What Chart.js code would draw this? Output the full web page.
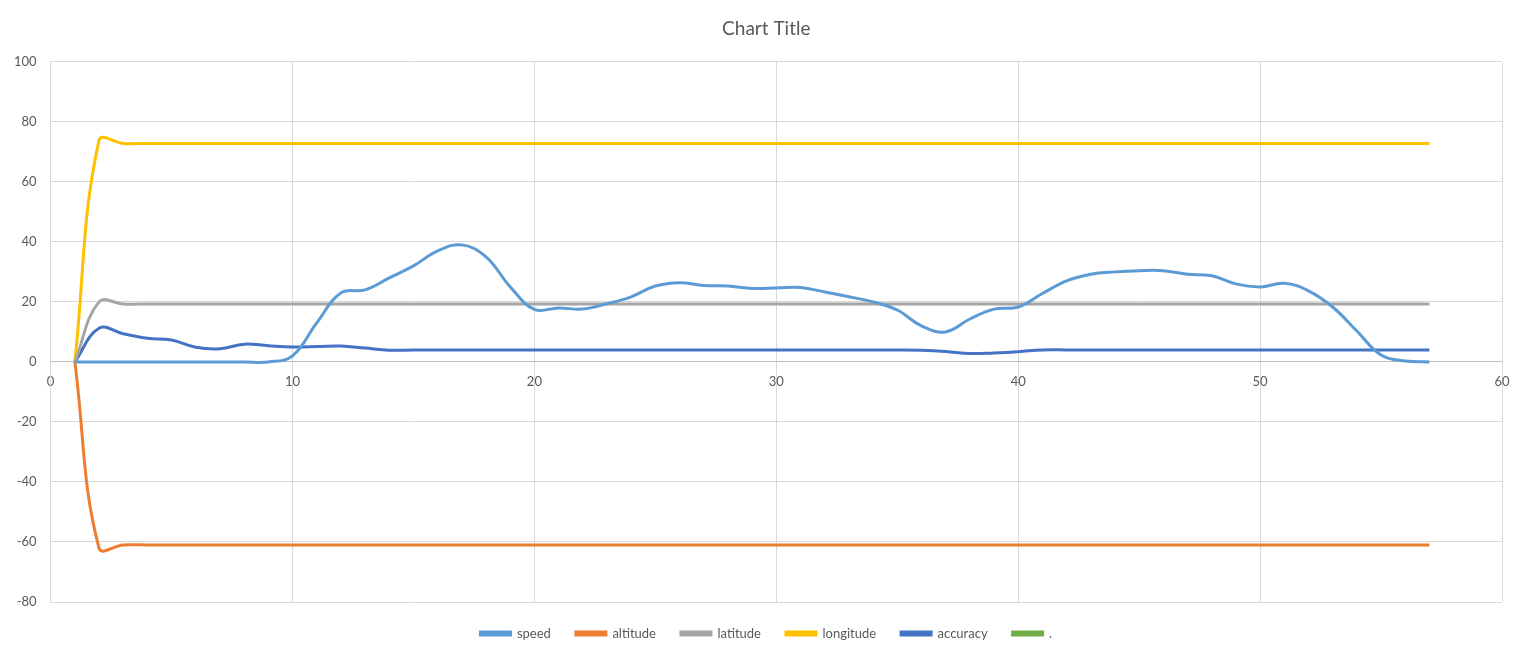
<!DOCTYPE html>
<html>
<head>
<meta charset="utf-8">
<script src="https://cdn.jsdelivr.net/npm/chart.js@4"></script>
<style>
  html, body { margin: 0; padding: 0; background: #fff; }
  #wrap { width: 1520px; height: 650px; position: relative; }
</style>
</head>
<body>
<div id="wrap"><canvas id="chart"></canvas></div>
<script>
const xValues = [1, 2, 3, 4, 5, 6, 7, 8, 9, 10, 11, 12, 13, 14, 15, 16, 17, 18, 19, 20,
  21, 22, 23, 24, 25, 26, 27, 28, 29, 30, 31, 32, 33, 34, 35, 36, 37, 38, 39, 40,
  41, 42, 43, 44, 45, 46, 47, 48, 49, 50, 51, 52, 53, 54, 55, 56, 57];

const speed = [0, 0, 0, 0, 0, 0, 0, 0, 0, 2, 13, 23, 24, 28, 32, 37, 39, 35, 25, 17.5,
  18, 17.6, 19.4, 21.7, 25.3, 26.4, 25.5, 25.3, 24.5, 24.6, 24.8, 23.3, 21.7, 20, 17.3, 12, 10, 14.3, 17.6, 18.3,
  22.8, 27, 29.2, 30, 30.4, 30.4, 29.2, 28.7, 26, 25, 26.2, 23.7, 18.3, 10.3, 2.3, 0.3, 0];

const altitude = [0, -62, -61, -61, -61, -61, -61, -61, -61, -61, -61, -61, -61, -61, -61, -61, -61, -61, -61, -61,
  -61, -61, -61, -61, -61, -61, -61, -61, -61, -61, -61, -61, -61, -61, -61, -61, -61, -61, -61, -61,
  -61, -61, -61, -61, -61, -61, -61, -61, -61, -61, -61, -61, -61, -61, -61, -61, -61];

const latitude = [0, 20, 19.3, 19.3, 19.3, 19.3, 19.3, 19.3, 19.3, 19.3, 19.3, 19.3, 19.3, 19.3, 19.3, 19.3, 19.3, 19.3, 19.3, 19.3,
  19.3, 19.3, 19.3, 19.3, 19.3, 19.3, 19.3, 19.3, 19.3, 19.3, 19.3, 19.3, 19.3, 19.3, 19.3, 19.3, 19.3, 19.3, 19.3, 19.3,
  19.3, 19.3, 19.3, 19.3, 19.3, 19.3, 19.3, 19.3, 19.3, 19.3, 19.3, 19.3, 19.3, 19.3, 19.3, 19.3, 19.3];

const longitude = [0, 73.8, 72.8, 72.8, 72.8, 72.8, 72.8, 72.8, 72.8, 72.8, 72.8, 72.8, 72.8, 72.8, 72.8, 72.8, 72.8, 72.8, 72.8, 72.8,
  72.8, 72.8, 72.8, 72.8, 72.8, 72.8, 72.8, 72.8, 72.8, 72.8, 72.8, 72.8, 72.8, 72.8, 72.8, 72.8, 72.8, 72.8, 72.8, 72.8,
  72.8, 72.8, 72.8, 72.8, 72.8, 72.8, 72.8, 72.8, 72.8, 72.8, 72.8, 72.8, 72.8, 72.8, 72.8, 72.8, 72.8];

const accuracy = [0, 11.2, 9.4, 7.9, 7.3, 4.9, 4.4, 5.9, 5.4, 5, 5.1, 5.3, 4.6, 3.9, 4, 4, 4, 4, 4, 4,
  4, 4, 4, 4, 4, 4, 4, 4, 4, 4, 4, 4, 4, 4, 4, 3.9, 3.5, 2.8, 3, 3.4,
  4, 4, 4, 4, 4, 4, 4, 4, 4, 4, 4, 4, 4, 4, 4, 4, 4];

const dot = [];

const seriesNames = ['speed', 'altitude', 'latitude', 'longitude', 'accuracy', '.'];
const seriesColors = ['#5B9BD5', '#ED7D31', '#A5A5A5', '#FFC000', '#4472C4', '#70AD47'];
const seriesValues = [speed, altitude, latitude, longitude, accuracy, dot];

const txt = '#595959';
const font = 'Lato, "Liberation Sans", sans-serif';

const datasets = seriesNames.map((name, i) => ({
  label: name,
  data: seriesValues[i].map((v, j) => ({ x: xValues[j], y: v })),
  borderColor: seriesColors[i],
  backgroundColor: seriesColors[i],
  borderWidth: 3,
  pointRadius: 0,
  tension: 0.4,
  fill: false
}));

// excel centres title and legend over the plot area, not the whole canvas
const centreOnPlot = {
  id: 'centreOnPlot',
  afterLayout(chart) {
    const area = chart.chartArea;
    [chart.titleBlock, chart.legend].forEach(b => {
      if (!b) return;
      b.left = area.left - 20;
      b.right = area.right;
    });
  }
};

new Chart(document.getElementById('chart').getContext('2d'), {
  type: 'line',
  data: { datasets: datasets },
  plugins: [centreOnPlot],
  options: {
    responsive: true,
    maintainAspectRatio: false,
    animation: false,
    layout: { padding: { left: 0, right: 18, top: 0, bottom: 0 } },
    plugins: {
      title: {
        display: true,
        text: 'Chart Title',
        color: txt,
        font: { family: font, size: 19, weight: 'normal' },
        padding: { top: 17, bottom: 22 }
      },
      legend: {
        position: 'bottom',
        labels: {
          color: txt,
          font: { family: font, size: 13 },
          boxWidth: 30,
          boxHeight: 3,
          padding: 25
        }
      },
      tooltip: { enabled: false }
    },
    scales: {
      x: {
        type: 'linear',
        position: { y: 0 },
        min: 0,
        max: 60,
        afterFit: (s) => { s.paddingRight = 0; },
        ticks: { stepSize: 10, color: txt, font: { family: font, size: 13 }, padding: 12 },
        grid: { color: '#d9d9d9', drawTicks: false },
        border: { color: '#bfbfbf', width: 1 }
      },
      y: {
        min: -80,
        max: 100,
        ticks: { stepSize: 20, color: txt, font: { family: font, size: 13 }, padding: 14 },
        grid: { color: '#d9d9d9', drawTicks: false },
        border: { color: '#d9d9d9' }
      }
    }
  }
});
</script>
</body>
</html>
